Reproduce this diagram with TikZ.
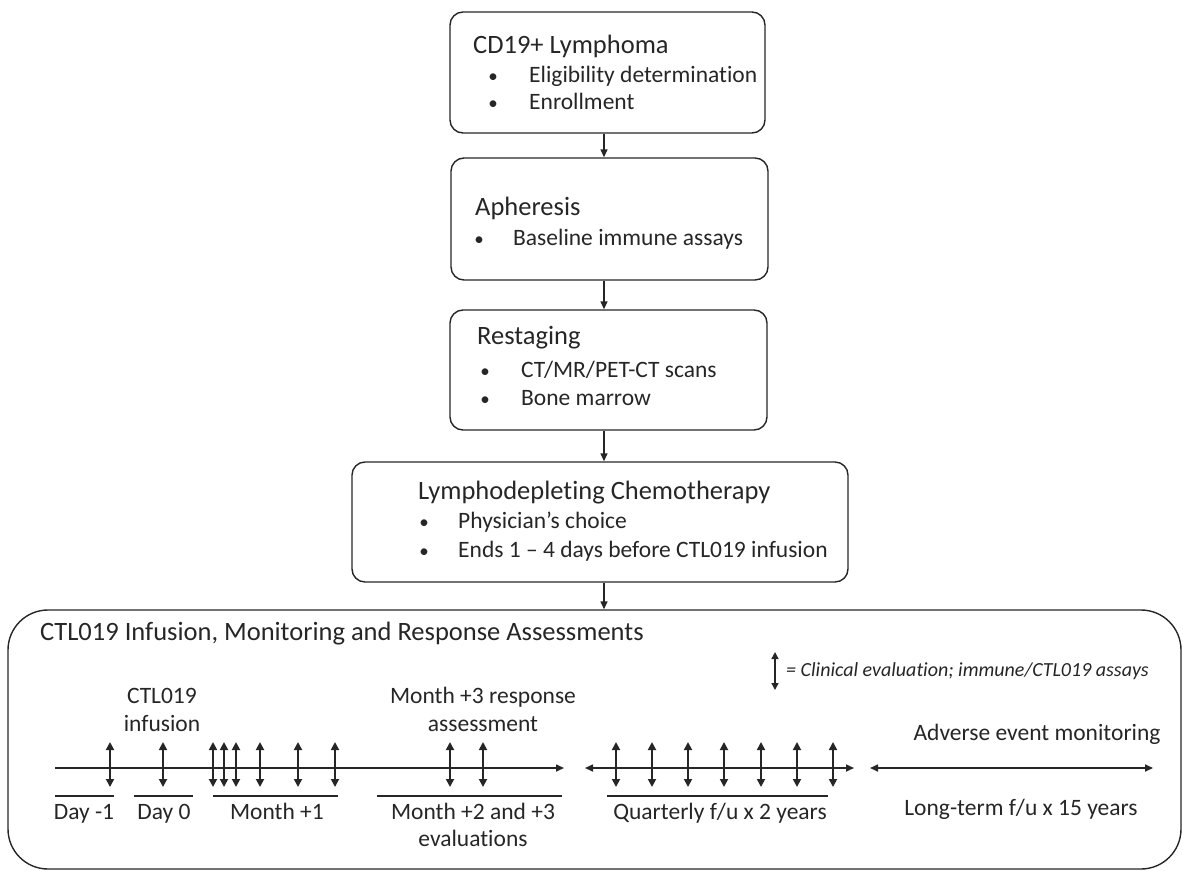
\documentclass[tikz,border=0pt]{standalone}
\usepackage{fontspec}
\setmainfont{Carlito}[Ligatures=NoCommon]
\usetikzlibrary{arrows.meta}
\begin{document}
\begin{tikzpicture}[x=1pt,y=-1pt,
  box/.style={draw=black!85, line width=1.4pt, rounded corners=13pt, inner sep=0pt},
  hd/.style={anchor=base west, inner sep=0pt, font=\fontsize{26.5}{30}\selectfont, text=black!85},
  it/.style={anchor=base west, inner sep=0pt, font=\fontsize{23.5}{27}\selectfont, text=black!85},
  bul/.style={anchor=base, inner sep=0pt, font=\fontsize{19}{22}\selectfont, text=black!85},
  lab/.style={anchor=base, inner sep=0pt, font=\fontsize{23.5}{27}\selectfont, text=black!85},
  flow/.style={-{Triangle[length=8pt,width=7pt]}, line width=1.4pt, draw=black!85},
  tl/.style={line width=1.6pt, draw=black!85},
  tick/.style={{Triangle[length=8pt,width=8pt]}-{Triangle[length=8pt,width=8pt]}, line width=1.8pt, draw=black!85},
  ul/.style={line width=1.4pt, draw=black!85}
]
\useasboundingbox (0,0) rectangle (1183,870);

% flow boxes
\node[box, minimum width=315pt, minimum height=121pt] (b1) at (607.5,72.5) {};
\node[box, minimum width=317pt, minimum height=122pt] (b2) at (609.5,219) {};
\node[box, minimum width=317pt, minimum height=120pt] (b3) at (608.5,370) {};
\node[box, minimum width=496pt, minimum height=120pt] (b4) at (600,522) {};
\node[box, rounded corners=40pt, minimum width=1173pt, minimum height=259pt] (b5) at (594.5,739.5) {};

\coordinate (ax) at (604,0);
\draw[flow] (b1.south -| ax) -- (b2.north -| ax);
\draw[flow] (b2.south -| ax) -- (b3.north -| ax);
\draw[flow] (b3.south -| ax) -- (b4.north -| ax);
\draw[flow] (b4.south -| ax) -- (b5.north -| ax);

% box 1
\node[hd] (h1) at (473,53) {CD19+ Lymphoma};
\node[bul] (p11) at (493,82) {•};
\node[it] (i11) at (529,82) {Eligibility determination};
\node[bul] (p12) at (493,109) {•};
\node[it] (i12) at (529,109) {Enrollment};
% box 2
\node[hd] (h2) at (475,215) {Apheresis};
\node[bul] (p21) at (479,245) {•};
\node[it] (i21) at (513,245) {Baseline immune assays};
% box 3
\node[hd] (h3) at (477,344) {Restaging};
\node[bul] (p31) at (485,377) {•};
\node[it] (i31) at (521,377) {CT/MR/PET-CT scans};
\node[bul] (p32) at (485,405) {•};
\node[it] (i32) at (521,405) {Bone marrow};
% box 4
\node[hd] (h4) at (418,499) {Lymphodepleting Chemotherapy};
\node[bul] (p41) at (424,528) {•};
\node[it] (i41) at (458,528) {Physician’s choice};
\node[bul] (p42) at (424,557) {•};
\node[it] (i42) at (458,557) {Ends 1 – 4 days before CTL019 infusion};

% big box
\node[hd] (h5) at (40,640) {CTL019 Infusion, Monitoring and Response Assessments};

% legend
\coordinate (lg1) at (775,652);
\coordinate (lg2) at (775,690);
\draw[tick, {Triangle[length=7pt,width=7pt]}-{Triangle[length=7pt,width=7pt]}, line width=1.4pt] (lg1) -- (lg2);
\node[anchor=base west, inner sep=0pt, font=\fontsize{20}{24}\selectfont\itshape, text=black!85] (leg) at (786,676) {= Clinical evaluation; immune/CTL019 assays};

% timeline labels above
\node[lab] (c1) at (162,703) {CTL019};
\node[lab] (c2) at (162,731) {infusion};
\node[lab] (m1) at (483,703) {Month +3 response};
\node[lab] (m2) at (483,731) {assessment};
\node[lab] (ae) at (1037,740) {Adverse event monitoring};

% timelines
\coordinate (t1s) at (55,768);  \coordinate (t1e) at (564,768);
\coordinate (t2s) at (585,768); \coordinate (t2e) at (854,768);
\coordinate (t3s) at (870,768); \coordinate (t3e) at (1153,768);
\draw[tl,-{Triangle[length=8pt,width=7pt]}] (t1s) -- (t1e);
\draw[tl,{Triangle[length=8pt,width=7pt]}-{Triangle[length=8pt,width=7pt]}] (t2s) -- (t2e);
\draw[tl,{Triangle[length=8pt,width=7pt]}-{Triangle[length=8pt,width=7pt]}] (t3s) -- (t3e);

\foreach \x in {110,163,213,224,236,260,298,335,450,483,616,652,688,724,761,797,833}
  \draw[tick] (\x,742) -- (\x,787);

% underlines
\draw[ul] (55,796) -- (114,796);
\draw[ul] (134,796) -- (193,796);
\draw[ul] (213,796) -- (338,796);
\draw[ul] (377,796) -- (562,796);
\draw[ul] (607,796) -- (828,796);

% timeline labels below
\node[lab] (d1) at (84,819) {Day -1};
\node[lab] (d0) at (164,819) {Day 0};
\node[lab] (mo1) at (277,819) {Month +1};
\node[lab] (mo2) at (473,819) {Month +2 and +3};
\node[lab] (ev) at (473,846) {evaluations};
\node[lab] (qf) at (720,819) {Quarterly f/u x 2 years};
\node[lab] (lt) at (1021,815) {Long-term f/u x 15 years};
\end{tikzpicture}
\end{document}
